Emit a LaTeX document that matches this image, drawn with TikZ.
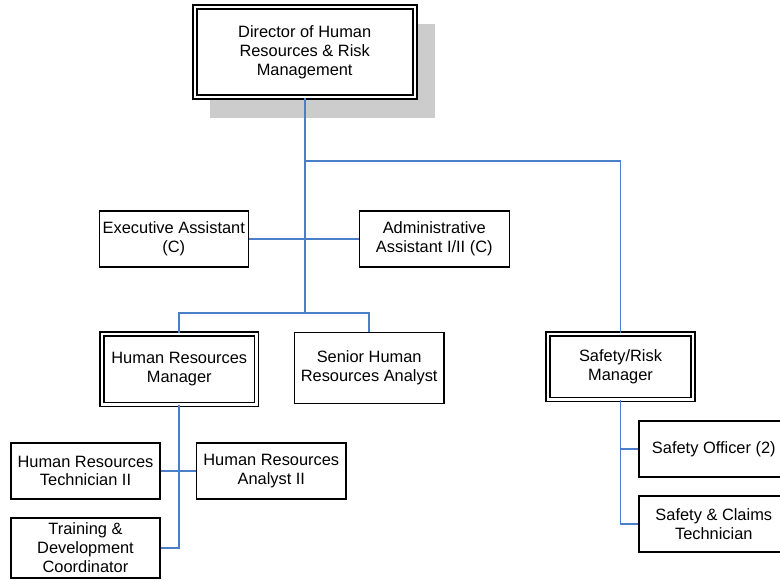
\documentclass[tikz,border=0pt]{standalone}
\usepackage{fontspec}
\setmainfont{Liberation Sans}
\definecolor{linkblue}{RGB}{74,126,200}
\definecolor{shadowgray}{RGB}{204,204,204}
\begin{document}
\begin{tikzpicture}[x=1pt,y=-1pt,
  box/.style={draw=black, line width=1.6pt, fill=white, inner sep=0pt,
    align=center, font=\fontsize{16.4}{18.8}\selectfont},
  dbox/.style={box, double, double distance=2.4pt},
  conn/.style={draw=linkblue, line width=1.8pt}]
\clip (0,0) rectangle (780,581);
\fill[white] (0,0) rectangle (780,581);

% drop shadow behind the top box
\fill[shadowgray] (210,24) rectangle (435,118);

% boxes
\node[dbox, minimum width=220pt, minimum height=90pt] (dir) at (304.7,52)
  {Director of Human\\Resources \& Risk\\Management};
\node[box, minimum width=149pt, minimum height=56pt] (ea) at (173.8,239)
  {Executive Assistant\\(C)};
\node[box, minimum width=150pt, minimum height=56pt] (aa) at (434.3,239)
  {Administrative\\Assistant I/II (C)};
\node[dbox, minimum width=154.7pt, minimum height=70.5pt] (hrm) at (179.3,369.2)
  {Human Resources\\Manager};
\node[box, minimum width=149.7pt, minimum height=71pt] (shra) at (369.2,367.8)
  {Senior Human\\Resources Analyst};
\node[dbox, minimum width=145.5pt, minimum height=65.8pt] (srm) at (620.5,366.6)
  {Safety/Risk\\Manager};
\node[box, minimum width=149pt, minimum height=56pt] (hrt) at (85.5,471)
  {Human Resources\\Technician II};
\node[box, minimum width=149.3pt, minimum height=56pt] (hra) at (271.3,471)
  {Human Resources\\Analyst II};
\node[box, minimum width=149pt, minimum height=60pt] (trn) at (85.5,547.8)
  {Training \&\\Development\\Coordinator};
\node[box, minimum width=150pt, minimum height=56pt] (so) at (713.8,449.2)
  {Safety Officer (2)};
\node[box, minimum width=150pt, minimum height=55.6pt] (sc) at (713.8,524)
  {Safety \& Claims\\Technician};

% junction points on the main trunk
\coordinate (j1) at (304.7,161);
\coordinate (j2) at (304.7,313.3);

% connectors
\draw[conn] (dir.south) -- (j2);
\draw[conn] (j1) -| (srm.north);
\draw[conn] (ea.east) -- (aa.west);
\draw[conn] (hrm.north) |- (j2) -| (shra.north);
\draw[conn] (hrm.south) -- (hrm.south |- trn.east) -- (trn.east);
\draw[conn] (hrt.east) -- (hra.west);
\draw[conn] (srm.south) |- (sc.west);
\draw[conn] (srm.south |- so.west) -- (so.west);
\end{tikzpicture}
\end{document}
